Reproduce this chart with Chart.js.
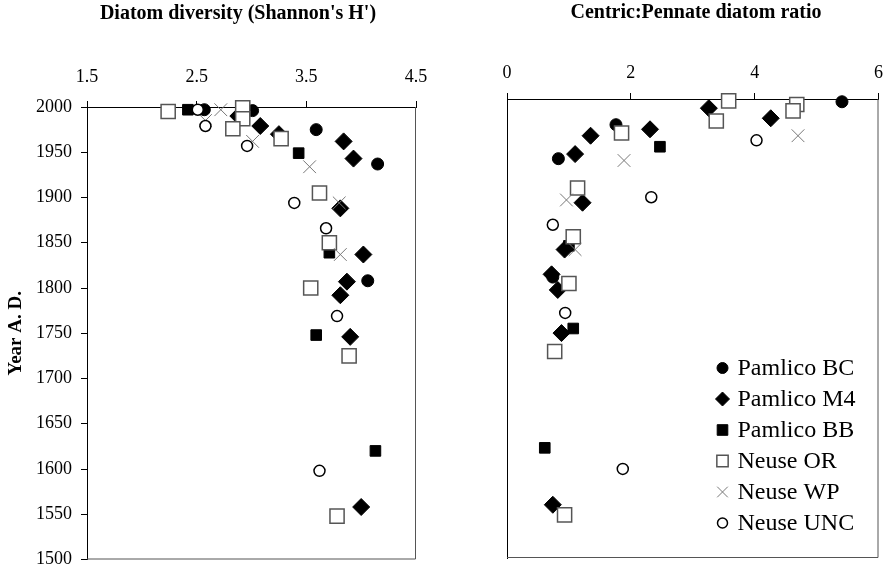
<!DOCTYPE html>
<html>
<head>
<meta charset="utf-8">
<script src="https://cdn.jsdelivr.net/npm/chart.js@4.4.1/dist/chart.umd.min.js"></script>
<style>
  body { margin: 0; background: #fff; }
  #wrap { position: relative; width: 890px; height: 571px; }
  #wrap canvas { position: absolute; top: 0; }
</style>
</head>
<body>
<div id="wrap">
  <canvas id="diversity" width="445" height="571" style="left:0"></canvas>
  <canvas id="ratio" width="445" height="571" style="left:445px"></canvas>
</div>
<script>
// sites, in the order Excel drew them
const seriesNames = ['Pamlico BC', 'Pamlico M4', 'Pamlico BB', 'Neuse OR', 'Neuse WP', 'Neuse UNC'];

// Shannon's H' : [H', year]
const bcDiversity  = [[2.57, 1997], [3.01, 1996], [3.59, 1975], [4.15, 1937], [4.06, 1808]];
const m4Diversity  = [[2.88, 1990], [3.08, 1979], [3.25, 1970], [3.84, 1962], [3.93, 1943], [3.81, 1888],
                      [4.02, 1837], [3.87, 1807], [3.81, 1792], [3.90, 1746], [4.00, 1558]];
const bbDiversity  = [[2.42, 1997], [3.43, 1949], [3.71, 1839], [3.59, 1748], [4.13, 1620]];
const orDiversity  = [[2.24, 1995], [2.92, 1999], [2.92, 1987], [2.83, 1976], [3.27, 1965], [3.62, 1905],
                      [3.71, 1850], [3.54, 1800], [3.89, 1725], [3.78, 1548]];
const wpDiversity  = [[2.72, 1997], [2.58, 1985], [3.01, 1962], [3.53, 1934], [3.80, 1894], [3.81, 1837]];
const uncDiversity = [[2.51, 1997], [2.58, 1979], [2.96, 1957], [3.39, 1894], [3.68, 1866], [3.78, 1769], [3.62, 1598]];

// centric:pennate ratio : [ratio, year]
const bcRatio  = [[5.41, 1997], [1.76, 1972], [0.83, 1935], [0.74, 1806]];
const m4Ratio  = [[3.26, 1990], [4.26, 1979], [2.31, 1967], [1.35, 1960], [1.10, 1940], [1.22, 1887],
                  [0.93, 1836], [0.72, 1809], [0.82, 1792], [0.88, 1745], [0.74, 1558]];
const bbRatio  = [[2.47, 1948], [1.00, 1840], [1.07, 1750], [0.61, 1620]];
const orRatio  = [[3.58, 1998], [4.68, 1994], [4.62, 1987], [3.38, 1976], [1.85, 1963], [1.14, 1903],
                  [1.07, 1850], [1.00, 1799], [0.77, 1725], [0.93, 1547]];
const wpRatio  = [[4.70, 1960], [1.89, 1933], [0.96, 1890], [1.10, 1836]];
const uncRatio = [[4.03, 1955], [2.33, 1893], [0.74, 1863], [0.94, 1767], [1.87, 1597]];

const diversityTicks = [1.5, 2.5, 3.5, 4.5];
const ratioTicks = [0, 2, 4, 6];
const yearTicks = [1500, 1550, 1600, 1650, 1700, 1750, 1800, 1850, 1900, 1950, 2000];

const serif = "'Liberation Serif', 'Times New Roman', serif";

const markers = [
  { style: 'circle',   r: 6,   fill: '#000', line: '#000', w: 1,   lr: 5.5 },
  { style: 'rectRot',  r: 8.5, fill: '#000', line: '#000', w: 1,   lr: 7 },
  { style: 'rect',     r: 7.5, fill: '#000', line: '#000', w: 1,   lr: 7.5 },
  { style: 'rect',     r: 10,  fill: '#fff', line: '#555', w: 1.5, lr: 8 },
  { style: 'crossRot', r: 9,   fill: '#777', line: '#777', w: 1,   lr: 7.5 },
  { style: 'circle',   r: 5.5, fill: '#fff', line: '#000', w: 1.5, lr: 5 }
];

function makeDatasets(series) {
  return series.map((pairs, i) => ({
    label: seriesNames[i],
    data: pairs.map(([x, y]) => ({ x, y })),
    pointStyle: markers[i].style,
    pointRadius: markers[i].r,
    pointHoverRadius: markers[i].r,
    backgroundColor: markers[i].fill,
    borderColor: markers[i].line,
    borderWidth: markers[i].w,
    order: series.length - i,   // later sites on top
    clip: false
  }));
}

// title above each panel
const panelTitle = {
  id: 'panelTitle',
  afterDraw(chart, args, opts) {
    const ctx = chart.ctx;
    ctx.save();
    ctx.font = 'bold 20px ' + serif;
    ctx.fillStyle = '#000';
    ctx.textAlign = 'center';
    ctx.textBaseline = 'middle';
    ctx.fillText(opts.text, opts.x, opts.y);
    ctx.restore();
  }
};

// right and bottom sides of the plot box
const frame = {
  id: 'frame',
  beforeDatasetsDraw(chart) {
    const { ctx, chartArea: a } = chart;
    ctx.save();
    ctx.strokeStyle = '#555';
    ctx.lineWidth = 1;
    ctx.beginPath();
    ctx.moveTo(a.right - 0.5, a.top);
    ctx.lineTo(a.right - 0.5, a.bottom - 0.5);
    ctx.lineTo(a.left, a.bottom - 0.5);
    ctx.stroke();
    ctx.restore();
  }
};

const siteLegend = {
  id: 'siteLegend',
  afterDatasetsDraw(chart, args, opts) {
    const ctx = chart.ctx;
    ctx.save();
    seriesNames.forEach((name, i) => {
      const m = markers[i];
      const y = opts.y + i * opts.step;
      ctx.fillStyle = m.fill;
      ctx.strokeStyle = m.line;
      ctx.lineWidth = m.w;
      Chart.helpers.drawPoint(ctx, { pointStyle: m.style, radius: m.lr, rotation: 0, borderWidth: m.w }, opts.x, y);
      ctx.fillStyle = '#000';
      ctx.font = '24px ' + serif;
      ctx.textAlign = 'left';
      ctx.textBaseline = 'middle';
      ctx.fillText(name, opts.x + 15, y + 1);
    });
    ctx.restore();
  }
};

function panelOptions(p) {
  return {
    responsive: false,
    animation: false,
    events: [],
    layout: { padding: { left: 0, right: p.padRight, top: 0, bottom: p.padBottom } },
    plugins: {
      legend: { display: false },
      tooltip: { enabled: false },
      panelTitle: { text: p.title, x: p.titleX, y: p.titleY },
      siteLegend: p.legend || {}
    },
    scales: {
      x: {
        type: 'linear',
        position: 'top',
        min: p.xTicks[0],
        max: p.xTicks[p.xTicks.length - 1],
        afterBuildTicks: s => { s.ticks = p.xTicks.map(v => ({ value: v })); },
        afterFit: s => {
          s.height = p.top;
          s.paddingLeft = s.paddingRight = 0;
        },
        ticks: {
          color: '#000',
          padding: p.xPad,
          font: { family: serif, size: 18 },
          callback: p.xFormat
        },
        grid: { drawOnChartArea: false, tickLength: 6, color: '#000' },
        border: { color: '#000' }
      },
      y: {
        type: 'linear',
        min: 1500,
        max: 2000,
        afterBuildTicks: s => { s.ticks = yearTicks.map(v => ({ value: v })); },
        afterFit: s => {
          s.width = p.yWidth;
          s.paddingTop = s.paddingBottom = 0;
        },
        ticks: {
          display: p.yLabels,
          color: '#000',
          padding: 9,
          font: { family: serif, size: 18 },
          callback: v => String(v)
        },
        grid: { drawOnChartArea: false, drawTicks: p.yLabels, tickLength: 6, color: '#000' },
        border: { color: '#000' },
        title: {
          display: p.yLabels,
          text: 'Year A. D.',
          color: '#000',
          font: { family: serif, size: 19, weight: 'bold' },
          padding: { top: 5, bottom: 0 }
        }
      }
    }
  };
}

new Chart(document.getElementById('diversity'), {
  type: 'scatter',
  data: { datasets: makeDatasets([bcDiversity, m4Diversity, bbDiversity, orDiversity, wpDiversity, uncDiversity]) },
  options: panelOptions({
    title: "Diatom diversity (Shannon's H')", titleX: 238, titleY: 14,
    xTicks: diversityTicks, xFormat: v => v.toFixed(1), xPad: 13,
    top: 107, yWidth: 87, yLabels: true,
    padRight: 29, padBottom: 11
  }),
  plugins: [panelTitle, frame]
});

new Chart(document.getElementById('ratio'), {
  type: 'scatter',
  data: { datasets: makeDatasets([bcRatio, m4Ratio, bbRatio, orRatio, wpRatio, uncRatio]) },
  options: panelOptions({
    title: 'Centric:Pennate diatom ratio', titleX: 251, titleY: 13,
    xTicks: ratioTicks, xFormat: v => String(v), xPad: 9,
    top: 99, yWidth: 62, yLabels: false,
    padRight: 9, padBottom: 13,
    legend: { x: 277.5, y: 368, step: 31 }
  }),
  plugins: [panelTitle, frame, siteLegend]
});
</script>
</body>
</html>
